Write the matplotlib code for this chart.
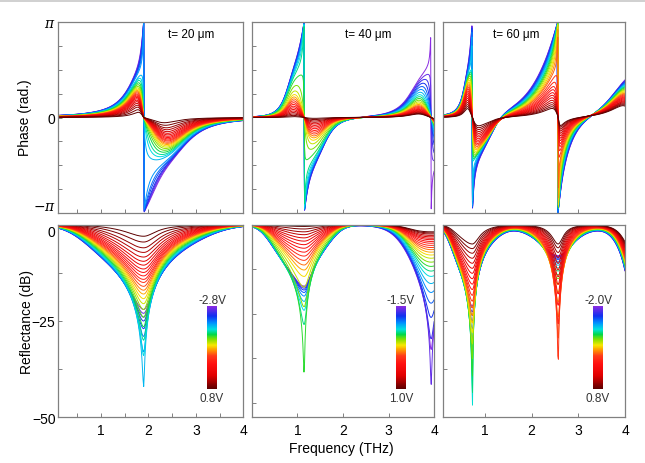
import numpy as np
import matplotlib
matplotlib.use('Agg')
import matplotlib.pyplot as plt
from matplotlib.colors import LinearSegmentedColormap
from matplotlib.colorbar import ColorbarBase
from matplotlib.lines import Line2D

plt.rcParams['font.family'] = ['Liberation Sans', 'DejaVu Sans']
plt.rcParams['mathtext.fontset'] = 'dejavuserif'

# ---------------- data ----------------
panel_titles = ['t= 20 \u03bcm', 't= 40 \u03bcm', 't= 60 \u03bcm']
bias_top = ['-2.8V', '-1.5V', '-2.0V']
bias_bottom = ['0.8V', '1.0V', '0.8V']
x_limits = [(0.1, 4.0), (0.0, 4.0), (0.1, 4.0)]
refl_limits = [(-50, 0), (-54, 0), (-50, 0)]
freq_start = [0.05, 0.02, 0.05]
freq_step = 0.0125

# resonance frequencies (THz)
p1_f0 = [1.90]
p2_f0 = [1.15, 3.93]
p3_f0 = [0.735, 2.57, 4.15]

# dip depth (dB) of every bias curve at each resonance, from positive bias (red) to negative bias (purple)
p1_dip_a = [-3.0, -4.5, -6.0, -7.2, -8.4, -9.5, -10.5, -11.5, -12.4, -13.3, -14.2, -15.0,
            -16.0, -17.0, -18.0, -19.2, -20.5, -22.0, -24.0, -26.5, -30.0, -34.0, -42.0,
            -33.0, -29.0, -27.0, -25.0, -24.0, -23.0, -22.0]
p2_dip_a = [-0.5, -1.2, -2.0, -2.8, -3.7, -4.6, -5.6, -6.6, -7.7, -8.8, -10.0, -11.3, -12.7,
            -14.5, -17.5, -23.0, -42.0, -28.0, -24.0, -21.5, -20.0, -19.0, -18.3, -17.8,
            -17.4, -17.2]
p2_dip_b = [-2.0, -2.3, -2.6, -3.0, -3.4, -3.8, -4.2, -4.7, -5.2, -5.8, -6.4, -7.0, -7.7,
            -8.5, -9.4, -10.5, -11.7, -13.0, -14.5, -16.5, -19.0, -22.0, -26.0, -32.0,
            -45.0, -35.0]
p3_dip_a = [-5.0, -6.2, -7.4, -8.7, -10.0, -11.3, -12.6, -14.0, -15.4, -16.8, -18.3, -19.8,
            -21.5, -23.5, -25.5, -28.0, -31.0, -35.0, -40.0, -46.0, -60.0, -35.0, -30.0,
            -27.0, -25.0, -23.5, -22.5, -21.5, -21.0]
p3_dip_b = [-5.0, -6.0, -7.2, -8.5, -10.0, -11.7, -13.5, -15.5, -18.0, -21.0, -26.0, -38.0,
            -30.0, -24.0, -20.0, -17.5, -15.5, -14.0, -13.0, -12.0, -11.2, -10.5, -10.0,
            -9.5, -9.0, -8.7, -8.4, -8.2, -8.0]
p3_dip_c = [-7.0, -7.6, -8.2, -8.8, -9.4, -10.0, -10.7, -11.4, -12.1, -12.8, -13.6, -14.4,
            -15.2, -16.0, -17.0, -18.0, -19.0, -20.0, -21.2, -22.4, -23.6, -25.0, -26.5,
            -28.0, -30.0, -32.0, -34.5, -37.0, -40.0]
# index of the critically coupled curve (curves after it are over-coupled)
p1_crit = [22]
p2_crit = [16, 24]
p3_crit = [20, 11, 99]

# line-shape parameters (w_lo, w_hi, c_lo, c_hi, p_lo, p_hi) for reflectance and phase
p1_amp = [(1.16, 0.78, 0.18, 0.07, 4, 4)]
p1_pha = [(0.385, 2.0, 3.5, 4.8, 1, 2)]
p2_amp = [(0.77, 0.44, 1.8, 2.0, 4, 4), (0.95, 0.95, 2.0, 2.0, 2, 2)]
p2_pha = [(0.40, 0.31, 28.0, 8.0, 3, 3), (0.50, 0.50, 6.0, 6.0, 2, 2)]
p3_amp = [(0.53, 0.28, 11.0, 1.5, 4, 4), (0.25, 0.20, 0.5, 0.5, 2, 2), (0.30, 0.30, 2.0, 2.0, 2, 2)]
p3_pha = [(0.25, 0.20, 58.0, 14.0, 2, 4), (0.20, 0.08, 1.4, 3.0, 2, 2), (0.30, 0.30, 2.0, 2.0, 2, 2)]
narrowing = [0.3, 0.8, 0.6]

panels = [
    (p1_f0, [p1_dip_a], p1_crit, p1_amp, p1_pha),
    (p2_f0, [p2_dip_a, p2_dip_b], p2_crit, p2_amp, p2_pha),
    (p3_f0, [p3_dip_a, p3_dip_b, p3_dip_c], p3_crit, p3_amp, p3_pha),
]

# colour scale (dark red -> purple)
cmap = LinearSegmentedColormap.from_list('bias', [
    (0.00, '#5c0000'), (0.08, '#a00000'), (0.16, '#e00000'), (0.30, '#ff1010'),
    (0.40, '#ff3a1a'), (0.47, '#ff9a00'), (0.53, '#f5e800'), (0.60, '#7de000'),
    (0.66, '#00d84a'), (0.72, '#00e0e0'), (0.80, '#0090ff'), (0.88, '#1030f0'),
    (1.00, '#8a2be2')])


def warp(f, f0, shape, scale):
    w_lo, w_hi, c_lo, c_hi, p_lo, p_hi = shape
    d = f0 - f
    lo = d > 0
    w = np.where(lo, w_lo, w_hi) * scale
    c = np.where(lo, c_lo, c_hi)
    p = np.where(lo, p_lo, p_hi)
    return d / w * (1 + c * np.abs(d) ** p)


def coupling(depth, over):
    s = 10 ** (depth / 20.0)
    return (1 + s) / (1 - s) if over else (1 - s) / (1 + s)


def response(f, f0s, dips, crits, shapes, g, i):
    r = np.ones_like(f, dtype=complex)
    for k, f0 in enumerate(f0s):
        rho = coupling(dips[k][i], i > crits[k])
        scale = g + (1 - g) * min(rho, 1.0)
        x = warp(f, f0, shapes[k], scale)
        r = r * ((1 - rho) + 1j * x) / ((1 + rho) + 1j * x)
    return r


fig = plt.figure(figsize=(6.45, 4.64), dpi=100)
W, H = 645.0, 464.0
col_px = [(58.3, 185.0), (251.7, 182.6), (442.7, 182.3)]
top_px = (23.0, 191.0)
bot_px = (225.7, 192.6)
cbar_x = [207.3, 396.0, 593.3]
frame_col = '#808080'


def style(ax):
    for s in ax.spines.values():
        s.set_color(frame_col)
        s.set_linewidth(0.9)
    ax.tick_params(which='both', direction='in', color=frame_col, length=3, width=0.7,
                   top=False, right=False, labelsize=10, pad=2)


for j, (f0s, dips, crits, amp_shapes, pha_shapes) in enumerate(panels):
    x0, wpx = col_px[j]
    ax_t = fig.add_axes([x0 / W, 1 - (top_px[0] + top_px[1]) / H, wpx / W, top_px[1] / H])
    ax_b = fig.add_axes([x0 / W, 1 - (bot_px[0] + bot_px[1]) / H, wpx / W, bot_px[1] / H])
    f = np.arange(freq_start[j], 4.0 + 1e-9, freq_step)
    n = len(dips[0])
    g = narrowing[j]
    for i in range(n - 1, -1, -1):
        col = cmap(i / (n - 1))
        r_amp = response(f, f0s, dips, crits, amp_shapes, g, i)
        r_pha = response(f, f0s, dips, crits, pha_shapes, g, i)
        ax_b.plot(f, 20 * np.log10(np.abs(r_amp)), color=col, lw=0.7)
        ax_t.plot(f, np.angle(r_pha), color=col, lw=0.7)

    for ax in (ax_t, ax_b):
        ax.set_xlim(*x_limits[j])
        style(ax)
    ax_t.set_ylim(-np.pi, np.pi)
    ax_b.set_ylim(*refl_limits[j])

    if j == 0:
        ax_t.set_xticks(np.arange(0.5, 4.01, 0.5))
        ax_b.set_xticks([1, 2, 3, 4])
        ax_b.set_xticks([0.5, 1.5, 2.5, 3.5], minor=True)
        ax_t.set_yticks([-np.pi, 0, np.pi])
        ax_t.set_yticklabels([r'$-\pi$', '0', r'$\pi$'])
        ax_t.set_yticks(np.arange(-3, 4) * np.pi / 4, minor=True)
        ax_b.set_yticks([-50, -25, 0])
        ax_b.set_yticks([-37.5, -12.5], minor=True)
        ax_t.get_yticklabels()[0].set_va('bottom')
        ax_b.get_yticklabels()[2].set_va('top')
    else:
        ax_t.set_xticks([1, 2, 3])
        ax_b.set_xticks([1, 2, 3, 4])
        if j == 1:
            ax_t.set_yticks(np.array([-3, -2, -1, 1, 2, 3]) * np.pi / 4)
            ax_b.set_yticks([-50, -37.5, -25, -12.5])
        else:
            ax_t.set_yticks([-np.pi / 2, np.pi / 2])
            ax_b.set_yticks([-37.5, -25, -12.5])
        ax_t.set_yticklabels([])
        ax_b.set_yticklabels([])
    ax_t.set_xticklabels([])
    ax_b.set_xticklabels([str(v) for v in [1, 2, 3, 4]])
    ax_b.tick_params(axis='x', pad=4)

    ax_t.text([0.72, 0.637, 0.406][j], 0.935, panel_titles[j], transform=ax_t.transAxes,
              ha='center', va='center', fontsize=8.5)

    # colour bar
    cb_ax = fig.add_axes([cbar_x[j] / W, 1 - 390.0 / H, 9.6 / W, 83.0 / H])
    cb = ColorbarBase(cb_ax, cmap=cmap, orientation='vertical')
    cb.outline.set_visible(False)
    cb_ax.set_xticks([])
    cb_ax.set_yticks([])
    cx = (cbar_x[j] + 4.8) / W
    fig.text(cx, 1 - 301.0 / H, bias_top[j], ha='center', va='center', fontsize=8.5, color='#333333')
    fig.text(cx, 1 - 399.5 / H, bias_bottom[j], ha='center', va='center', fontsize=8.5, color='#333333')

fig.text(25 / W, 1 - 118 / H, 'Phase (rad.)', rotation=90, ha='center', va='center', fontsize=10)
fig.text(27 / W, 1 - 322 / H, 'Reflectance (dB)', rotation=90, ha='center', va='center', fontsize=10)
fig.text(341 / W, 1 - 449 / H, 'Frequency (THz)', ha='center', va='center', fontsize=10)

fig.add_artist(Line2D([0, 1], [1 - 1.5 / H, 1 - 1.5 / H], transform=fig.transFigure,
                      color='#c8c8c8', lw=1.2))

fig.savefig('out.png', dpi=100)
